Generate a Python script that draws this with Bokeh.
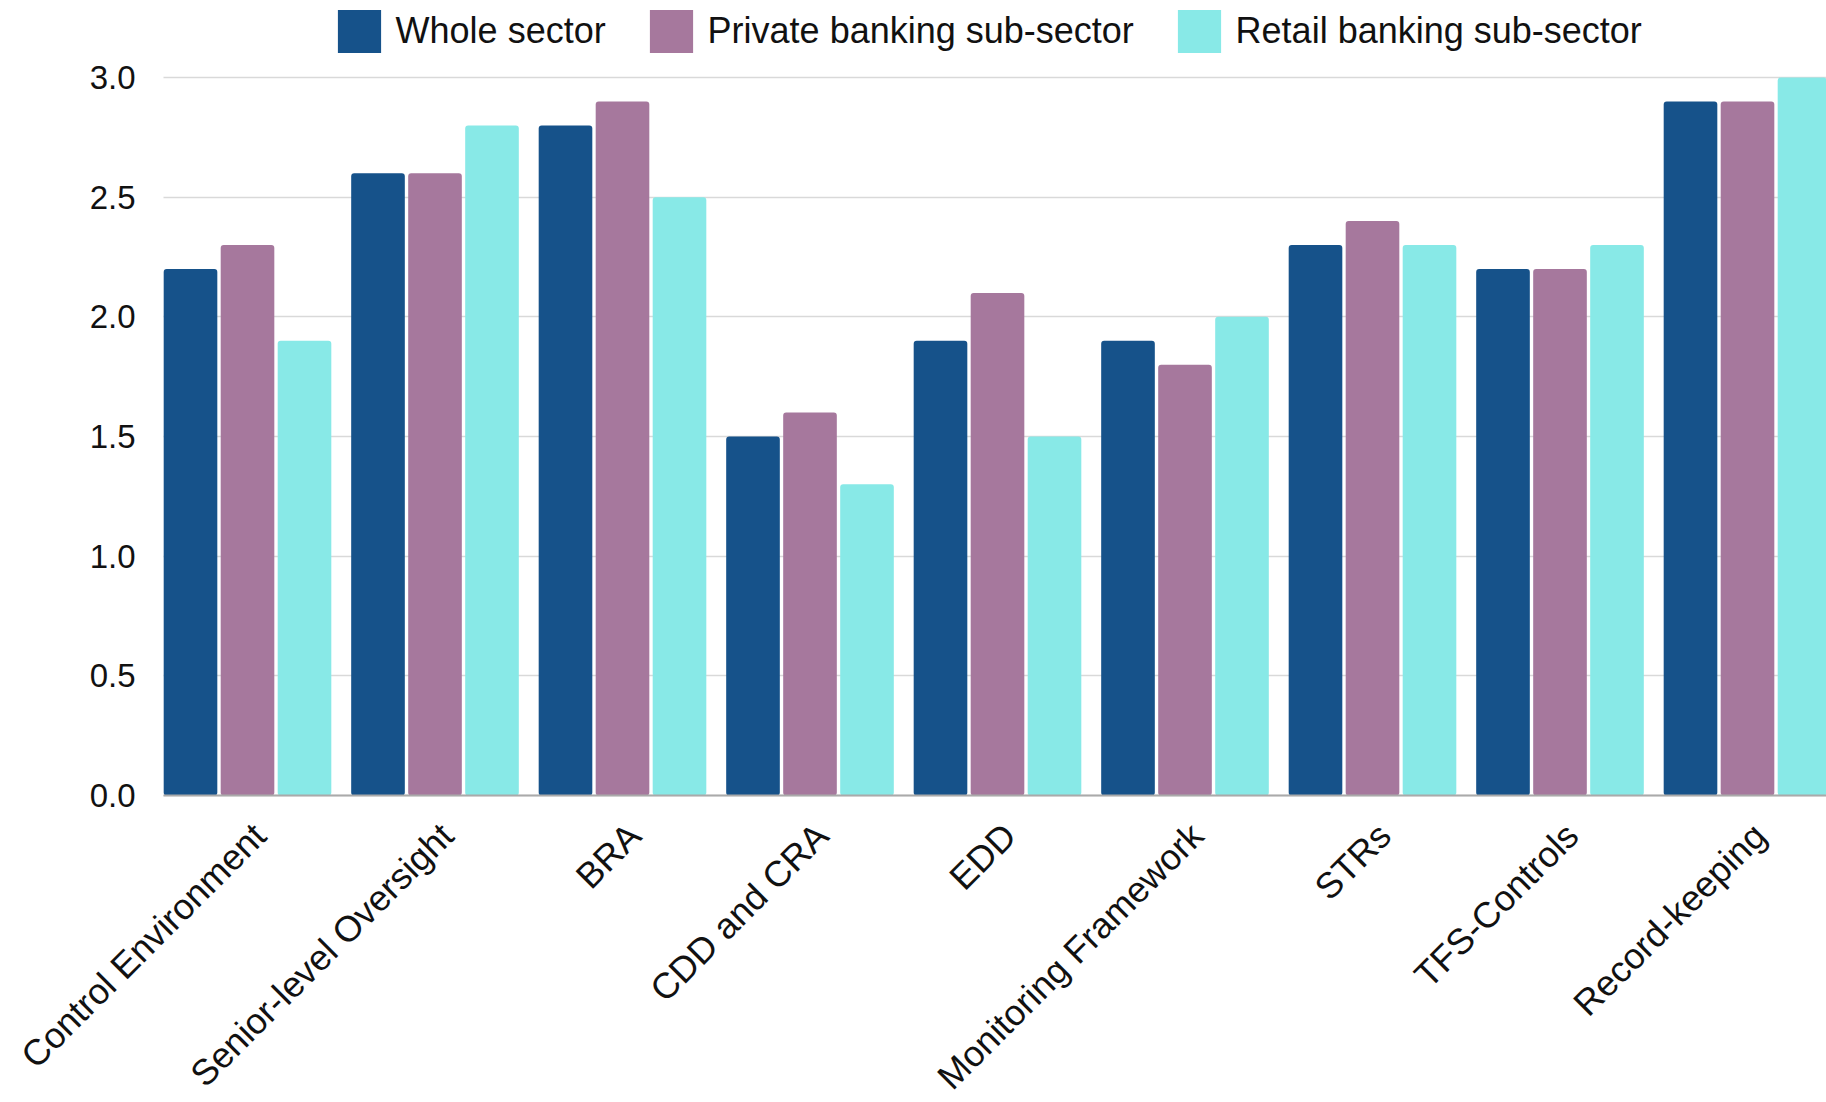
import math
from bokeh.plotting import figure
from bokeh.models import (ColumnDataSource, FixedTicker, NumeralTickFormatter,
                          Legend, LegendItem, Range1d)
from bokeh.transform import dodge
from bokeh.embed import file_html
from bokeh.resources import INLINE

categories = ["Control Environment", "Senior-level Oversight", "BRA", "CDD and CRA",
              "EDD", "Monitoring Framework", "STRs", "TFS-Controls", "Record-keeping"]
whole_sector = [2.2, 2.6, 2.8, 1.5, 1.9, 1.9, 2.3, 2.2, 2.9]
private_banking = [2.3, 2.6, 2.9, 1.6, 2.1, 1.8, 2.4, 2.2, 2.9]
retail_banking = [1.9, 2.8, 2.5, 1.3, 1.5, 2.0, 2.3, 2.3, 3.0]
series_names = ["Whole sector", "Private banking sub-sector", "Retail banking sub-sector"]
colors = ["#16528a", "#a6789d", "#88e9e7"]
y_ticks = [0.0, 0.5, 1.0, 1.5, 2.0, 2.5, 3.0]

pos = list(range(len(categories)))
source = ColumnDataSource(dict(x=pos, whole=whole_sector, private=private_banking,
                               retail=retail_banking))

FONT = "Liberation Sans"

# layout (screen pixels -> data range)
PX_X = 187.5            # pixels per category
PX_Y = 239.33           # pixels per unit of score
LEFT, BASE, W, H = 163, 795, 1826, 1102
x_plot_start = pos[0] - 84 / PX_X      # left edge of the plotting area
x_start = x_plot_start - LEFT / PX_X
x_end = x_start + W / PX_X
y_start = -(H - BASE) / PX_Y
y_end = BASE / PX_Y

# The frame covers the whole canvas; both axes are drawn at fixed locations.
p = figure(width=W, height=H, output_backend="svg", toolbar_location=None,
           x_range=Range1d(x_start, x_end), y_range=Range1d(y_start, y_end),
           min_border_left=0, min_border_right=0, min_border_top=0,
           min_border_bottom=0)
p.outline_line_color = None
p.background_fill_color = "white"
p.border_fill_color = "white"

offsets = [-0.304, 0.0, 0.304]
fields = ["whole", "private", "retail"]
renderers = []
for f, off, c in zip(fields, offsets, colors):
    r = p.vbar(x=dodge("x", off, range=p.x_range), top=f, width=0.286, bottom=0,
               source=source, fill_color=c, line_color=None, border_radius=3)
    renderers.append(r)

# y axis
yax = p.yaxis[0]
yax.fixed_location = x_plot_start
yax.ticker = FixedTicker(ticks=y_ticks)
yax.formatter = NumeralTickFormatter(format="0.0")
yax.axis_line_color = None
yax.major_tick_line_color = None
yax.minor_tick_line_color = None
yax.major_tick_out = 0
yax.major_tick_in = 0
yax.major_label_standoff = 28
yax.major_label_text_font = FONT
yax.major_label_text_font_size = "33px"
yax.major_label_text_color = "#111111"

p.ygrid.ticker = FixedTicker(ticks=y_ticks)
p.ygrid.grid_line_color = "#d9d9d9"
p.ygrid.grid_line_width = 1.5
p.xgrid.grid_line_color = None
p.ygrid.cross_bounds = (x_plot_start, x_end)

# x axis at y = 0 (labels nudged slightly right of the group centres)
label_ticks = [i + 0.064 for i in pos]
xax = p.xaxis[0]
xax.fixed_location = y_ticks[0]
xax.bounds = (x_plot_start, x_end)
xax.ticker = FixedTicker(ticks=label_ticks)
xax.major_label_overrides = {t: c for t, c in zip(label_ticks, categories)}
xax.major_label_orientation = math.pi / 4
xax.axis_line_color = "#aaaaaa"
xax.axis_line_width = 2
xax.major_tick_line_color = None
xax.minor_tick_line_color = None
xax.major_tick_out = 0
xax.major_tick_in = 0
xax.major_label_standoff = 34
xax.major_label_text_font = FONT
xax.major_label_text_font_size = "36px"
xax.major_label_text_color = "#111111"

# legends: one per series, placed above the 3.0 gridline
legend_x = [331.6, 643.6, 1171.6]
for name, r, lx in zip(series_names, renderers, legend_x):
    lg = Legend(items=[LegendItem(label=name, renderers=[r])],
                location=(lx, H - 58.4), orientation="horizontal",
                glyph_width=54, glyph_height=54, label_standoff=10,
                padding=0, margin=0, spacing=0,
                border_line_color=None, background_fill_alpha=0,
                label_text_font=FONT, label_text_font_size="36px",
                label_text_color="#111111")
    p.add_layout(lg, "center")

open("out.html", "w").write(file_html(p, INLINE))
